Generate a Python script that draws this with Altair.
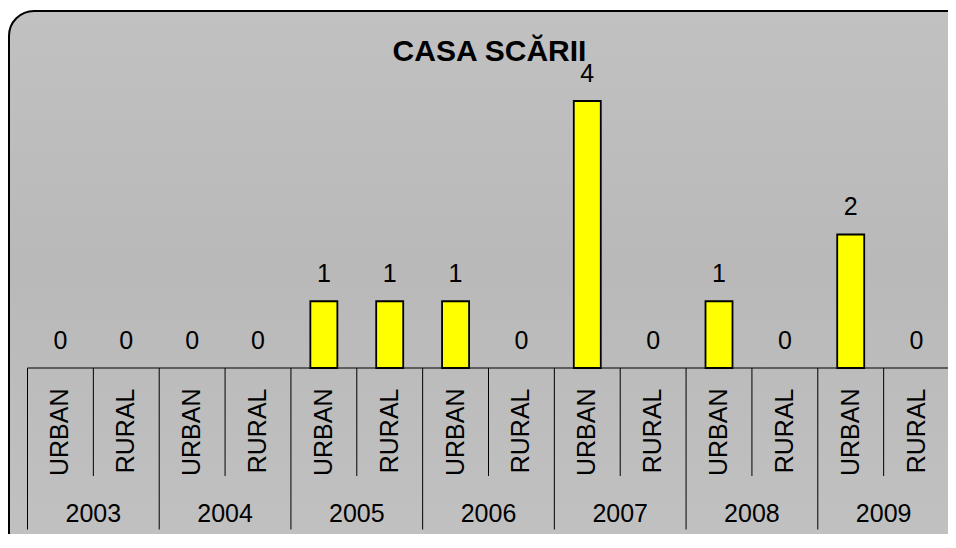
import altair as alt
import pandas as pd

title = "CASA SCĂRII"
years = ["2003", "2004", "2005", "2006", "2007", "2008", "2009"]
areas = ["URBAN", "RURAL"]
values = [0, 0, 0, 0, 1, 1, 1, 0, 4, 0, 1, 0, 2, 0]

rows = []
i = 0
for y in years:
    for a in areas:
        rows.append({"cat": f"{y} {a}", "year": y, "area": a, "value": values[i]})
        i += 1
df = pd.DataFrame(rows)
cats = list(df["cat"])

FONT = "Liberation Sans"

xscale = alt.Scale(domain=cats, range=[18.5, 940.5], paddingInner=0, paddingOuter=0)
yscale = alt.Scale(domain=[0, 4], range=[357, 90], nice=False, zero=True)

X = lambda bp=0.5: alt.X("cat:N", sort=cats, scale=xscale, axis=None, bandPosition=bp)
Y = alt.Y("value:Q", scale=yscale, axis=None)

base = alt.Chart(df)

bg = alt.Gradient(
    gradient="linear", x1=0, x2=0, y1=0, y2=1,
    stops=[
        alt.GradientStop(offset=0, color="#C1C1C1"),
        alt.GradientStop(offset=0.4, color="#B9B9B9"),
        alt.GradientStop(offset=0.85, color="#C1C1C1"),
        alt.GradientStop(offset=1, color="#C1C1C1"),
    ],
)

frame = alt.Chart(pd.DataFrame({"f": [1]})).mark_rect(
    fill=bg, stroke="black", strokeWidth=2, cornerRadius=25, clip=False
).encode(x=alt.value(0), x2=alt.value(1000), y=alt.value(0), y2=alt.value(640))

bars = base.transform_filter(alt.datum.value > 0).mark_bar(
    color="#FFFF00", stroke="black", strokeWidth=1.8,
    width=alt.RelativeBandSize(0.41)).encode(x=X(), y=Y)

labels = base.mark_text(font=FONT, fontSize=25, baseline="alphabetic", dy=-19.5,
                        color="black").encode(x=X(), y=Y, text="value:Q")

top_line = alt.Chart(pd.DataFrame({"v": [0]})).mark_rule(color="black", strokeWidth=1).encode(
    x=alt.value(18.5), x2=alt.value(940.5), y=alt.Y("v:Q", scale=yscale, axis=None))

short_rules = base.transform_filter(alt.datum.area == "RURAL").mark_rule(
    color="black", strokeWidth=1).encode(x=X(0), y=alt.value(357), y2=alt.value(465))

long_rules = base.transform_filter(alt.datum.area == "URBAN").mark_rule(
    color="black", strokeWidth=1).encode(x=X(0), y=alt.value(357), y2=alt.value(518.5))

end_rule = base.transform_filter(alt.datum.cat == cats[-1]).mark_rule(
    color="black", strokeWidth=1).encode(x=X(1), y=alt.value(357), y2=alt.value(518.5))

area_text = base.mark_text(font=FONT, fontSize=25, angle=270, align="right",
                           baseline="middle", color="black").encode(
    x=X(), y=alt.value(377.5), text="area:N")

year_text = base.transform_filter(alt.datum.area == "URBAN").mark_text(
    font=FONT, fontSize=25, baseline="alphabetic", color="black").encode(
    x=X(1), y=alt.value(510.7), text="year:N")

title_text = alt.Chart(pd.DataFrame({"t": [title]})).mark_text(
    font=FONT, fontSize=30, fontWeight="bold", baseline="alphabetic", color="black").encode(
    x=alt.value(480.5), y=alt.value(50), text="t:N")

chart = alt.layer(
    frame, bars, labels, top_line, short_rules, long_rules, end_rule,
    area_text, year_text, title_text
).properties(
    width=939, height=523,
    padding={"left": 1, "top": 3, "right": 0, "bottom": 0},
    autosize=alt.AutoSizeParams(type="none"),
    background="white",
).configure_view(
    stroke=None
)

chart.save("out.html", embed_options={"renderer": "svg", "actions": False})
